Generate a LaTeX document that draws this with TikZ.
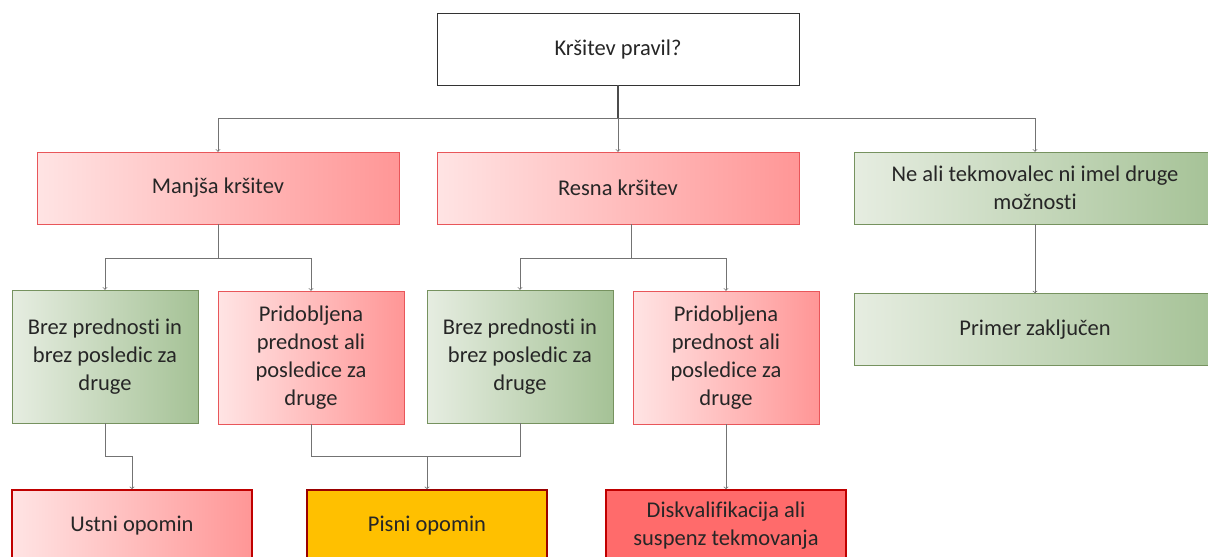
\documentclass[tikz,border=0pt]{standalone}
\usepackage{fontspec}
\setmainfont{Carlito}[Ligatures=NoCommon]

\definecolor{greenlight}{RGB}{230,237,225}
\definecolor{greendark}{RGB}{165,194,150}
\definecolor{greenline}{RGB}{118,146,95}
\definecolor{redlight}{RGB}{255,228,228}
\definecolor{reddark}{RGB}{255,150,150}
\definecolor{redline}{RGB}{232,86,90}
\definecolor{darkred}{RGB}{192,0,0}
\definecolor{amber}{RGB}{255,192,0}
\definecolor{alarm}{RGB}{255,107,107}

\tikzset{
  box/.style={draw, inner sep=2pt, align=center, text=black!85,
    font=\fontsize{22.5}{28}\selectfont},
  wide/.style={box, minimum width=362pt, minimum height=72pt},
  tall/.style={box, minimum width=186pt, minimum height=133pt},
  low/.style={box, minimum width=240pt, minimum height=72pt},
  greenbox/.style={draw=greenline, left color=greenlight, right color=greendark},
  redbox/.style={draw=redline, left color=redlight, right color=reddark},
  link/.style={draw=black!55, line width=0.8pt, ->}
}

\begin{document}
\begin{tikzpicture}[x=1pt,y=-1pt]

    \useasboundingbox (0,0) rectangle (1208,557);

    % Question
    \node[wide, draw=black!80, fill=white] (question) at (618,49) {Kršitev pravil?};

    % Kind of breach
    \node[wide, redbox] (minor) at (218,188) {Manjša kršitev};
    \node[wide, redbox] (serious) at (618,188) {Resna kršitev};
    \node[wide, greenbox] (noChoice) at (1035,188) {Ne ali tekmovalec ni imel druge\\možnosti};

    % Consequences
    \node[tall, greenbox] (noGainA) at (105,356.5) {Brez prednosti in\\brez posledic za\\druge};
    \node[tall, redbox] (gainA) at (311,357.5) {Pridobljena\\prednost ali\\posledice za\\druge};
    \node[tall, greenbox] (noGainB) at (520,356.5) {Brez prednosti in\\brez posledic za\\druge};
    \node[tall, redbox] (gainB) at (726,357.5) {Pridobljena\\prednost ali\\posledice za\\druge};
    \node[wide, greenbox] (closed) at (1035,329.5) {Primer zaključen};

    % Penalties
    \node[low, redbox, draw=darkred, line width=1.6pt] (oral) at (132,526) {Ustni opomin};
    \node[low, fill=amber, draw=darkred!80!black, line width=1.6pt] (written) at (427,526) {Pisni opomin};
    \node[low, fill=alarm, draw=darkred, line width=1.6pt] (disq) at (726,526) {Diskvalifikacija ali\\suspenz tekmovanja};

    % Branch points
    \coordinate (splitTop) at (618,118);
    \coordinate (splitMinor) at (218,258);
    \coordinate (splitSerious) at (631,258);
    \coordinate (joinOral) at (105,456);
    \coordinate (joinWritten) at (427,456);

    % Connectors
    \draw[black!70, line width=1.2pt] (question.south) -- (splitTop);
    \draw[link] (splitTop) -| (minor.north);
    \draw[link] (splitTop) -- (serious.north);
    \draw[link] (splitTop) -| (noChoice.north);

    \draw[black!55, line width=0.8pt] (minor.south) -- (splitMinor);
    \draw[link] (splitMinor) -| (noGainA.north);
    \draw[link] (splitMinor) -| (gainA.north);
    \draw[black!55, line width=0.8pt] (serious.south -| splitSerious) -- (splitSerious);
    \draw[link] (splitSerious) -| (noGainB.north);
    \draw[link] (splitSerious) -| (gainB.north);

    \draw[black!55, line width=0.8pt] (noGainA.south) -- (joinOral);
    \draw[link] (joinOral) -| (oral.north);
    \draw[black!55, line width=0.8pt] (gainA.south) |- (joinWritten);
    \draw[black!55, line width=0.8pt] (noGainB.south) |- (joinWritten);
    \draw[link] (joinWritten) -- (written.north);
    \draw[link] (gainB.south) -- (disq.north);
    \draw[link] (noChoice.south) -- (closed.north);

\end{tikzpicture}
\end{document}
